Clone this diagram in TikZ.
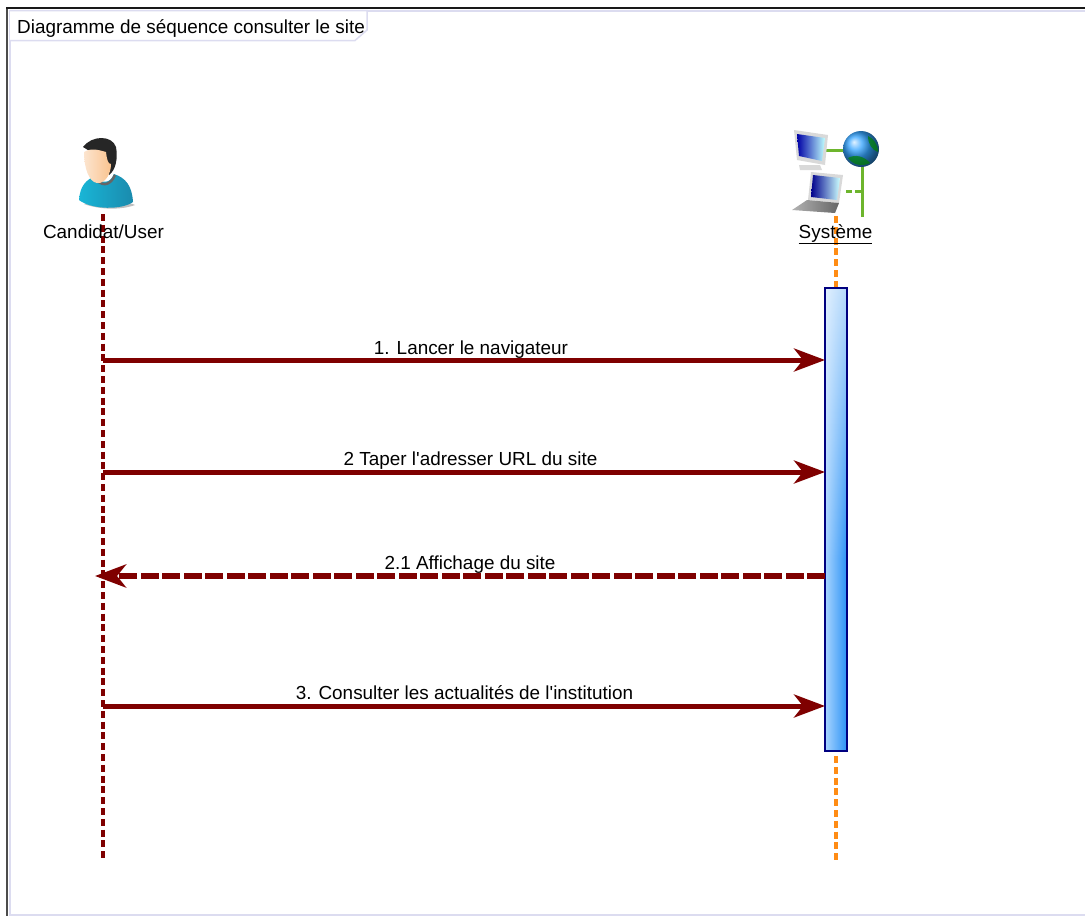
\documentclass[tikz,border=0pt]{standalone}
\usepackage{fontspec}
\setmainfont{Liberation Sans}
\usetikzlibrary{arrows.meta,fadings}
\definecolor{msgred}{HTML}{7F0000}
\definecolor{lifeorange}{HTML}{FF8C14}
\definecolor{tabline}{HTML}{DCDCF0}
\definecolor{linkgreen}{HTML}{6DB52D}
\definecolor{shirtblue}{HTML}{1FA3CC}
\definecolor{skin}{HTML}{F9CFA8}
\definecolor{barleft}{HTML}{A8D4FF}
\definecolor{barright}{HTML}{2B92F5}
\tikzset{
    lbl/.style={font=\fontsize{18.9}{21}\selectfont, inner sep=0pt, anchor=base},
    msg/.style={msgred, line width=5pt, -{Stealth[length=31pt,width=23pt,inset=9pt]}},
    lifeline/.style={line width=3.6pt, dash pattern=on 7pt off 3.8pt},
    activation/.style={draw=blue!50!black, line width=1.5pt, minimum width=22pt, minimum height=463pt, inner sep=0pt}
}
\begin{document}
\begin{tikzpicture}[x=1pt,y=-1pt]
    \useasboundingbox (0,0) rectangle (1085,916);
    % Draw the outer frame
    \draw[tabline, line width=2pt] (10,10.5) -- (1085,10.5);
    \draw[tabline, line width=2pt] (10,10) -- (10,915) -- (1085,915);
    \draw[black!70, line width=2.5pt] (7,916) -- (7,8);
    \draw[black!90, line width=1.5pt] (6,8) -- (1085,8);
    % Draw the title tab
    \draw[tabline, line width=1.5pt, fill=white] (10,10.5) -- (367,10.5) -- (367,30) -- (355,40.5) -- (10,40.5);
    \node[lbl, anchor=base west] (title) at (17,33) {Diagramme de séquence consulter le site};
    % Draw the lifelines
    \coordinate (userTop) at (103,214);
    \coordinate (userEnd) at (103,860);
    \coordinate (sysTop) at (836,216);
    \coordinate (sysEnd) at (836,860);
    \draw[lifeline, msgred] (userTop) -- (userEnd);
    \draw[lifeline, lifeorange] (sysTop) -- (sysEnd);
    \node[activation, left color=barleft, right color=barright] (bar) at (836,519.5) {};
    \fill[white, opacity=.65, path fading=south] (825.8,289) rectangle (846.2,560);
    \node[activation] (barEdge) at (836,519.5) {};
    % Draw the user icon
    \fill[black!25] (84,204) .. controls (100,210) and (122,210) .. (135,205) .. controls (122,199) and (95,199) .. (84,204);
    \shade[left color=shirtblue!80!cyan, right color=shirtblue!85!black] (79,200) .. controls (80,186) and (86,180) .. (95,176) .. controls (102,184) and (110,184) .. (114,174) .. controls (126,178) and (132,186) .. (133,202) .. controls (122,210) and (92,210) .. (79,200) -- cycle;
    \draw[black!60, line width=2.5pt] (94,176) .. controls (100,187) and (110,187) .. (115,175);
    \fill[black!85] (83,147) .. controls (92,135) and (112,135) .. (116,147) .. controls (118,158) and (116,170) .. (109,175) -- (104,160) -- cycle;
    \shade[left color=skin!55!white, right color=skin!85!orange] (84,152) .. controls (92,147) and (102,151) .. (106,152) .. controls (107,160) and (108,164) .. (111,164) .. controls (111,174) and (105,184) .. (97,183) .. controls (89,182) and (84,168) .. (84,152) -- cycle;
    \node[lbl] (user) at (103.5,238) {Candidat/User};
    % Draw the system icon
    \draw[linkgreen, line width=3pt] (826,150) -- (845,150);
    \draw[linkgreen, line width=3pt] (862,165) -- (862,217);
    \draw[linkgreen, line width=3pt, dash pattern=on 6pt off 3pt] (846,191) -- (862,191);
    \fill[black!15] (799,165) -- (820,165) -- (822,170) -- (800,170) -- cycle;
    \fill[black!15] (794,130) -- (828,135) -- (825,165) -- (797,160) -- cycle;
    \shade[left color=blue!65!black, right color=cyan!25] (797,134) -- (825,138) -- (822,161) -- (799,156) -- cycle;
    \shade[ball color=cyan!55!blue!80] (861,149) circle (18pt);
    \fill[green!50!black, opacity=.7] (848,158) .. controls (855,154) and (864,156) .. (870,163) .. controls (862,167) and (853,165) .. (848,158) -- cycle;
    \fill[green!50!black, opacity=.7] (868,136) .. controls (873,138) and (878,144) .. (878,152) .. controls (872,150) and (868,144) .. (868,136) -- cycle;
    \fill[black!15] (811,172) -- (843,175) -- (839,203) -- (808,200) -- cycle;
    \shade[left color=blue!55!black, right color=cyan!20] (813,175) -- (840,178) -- (837,200) -- (811,197) -- cycle;
    \shade[left color=black!30, right color=black!60] (807,200) -- (839,203) -- (835,213) -- (792,210) -- cycle;
    \node[lbl] (system) at (835.5,238) {\underline{Système}};
    % Draw the messages
    \foreach \n/\y/\lx/\ly/\txt in {1/360/471/354/{1. Lancer le navigateur},
        2/472/470.5/465/{2 Taper l\textquotesingle adresser URL du site},
        3/706/464.5/699/{3. Consulter les actualités de l\textquotesingle institution}}{
        \coordinate (from\n) at (103,\y);
        \coordinate (to\n) at (825,\y);
        \draw[msg] (from\n) -- (to\n);
        \node[lbl] (msgLabel\n) at (\lx,\ly) {\txt};
    }
    % Draw the reply
    \coordinate (fromReply) at (825,576);
    \coordinate (toReply) at (95,576);
    \draw[msg, line width=5.5pt, dash pattern=on 18pt off 3.5pt] (fromReply) -- (toReply);
    \node[lbl] (msgLabelReply) at (470,569) {2.1 Affichage du site};
\end{tikzpicture}
\end{document}
